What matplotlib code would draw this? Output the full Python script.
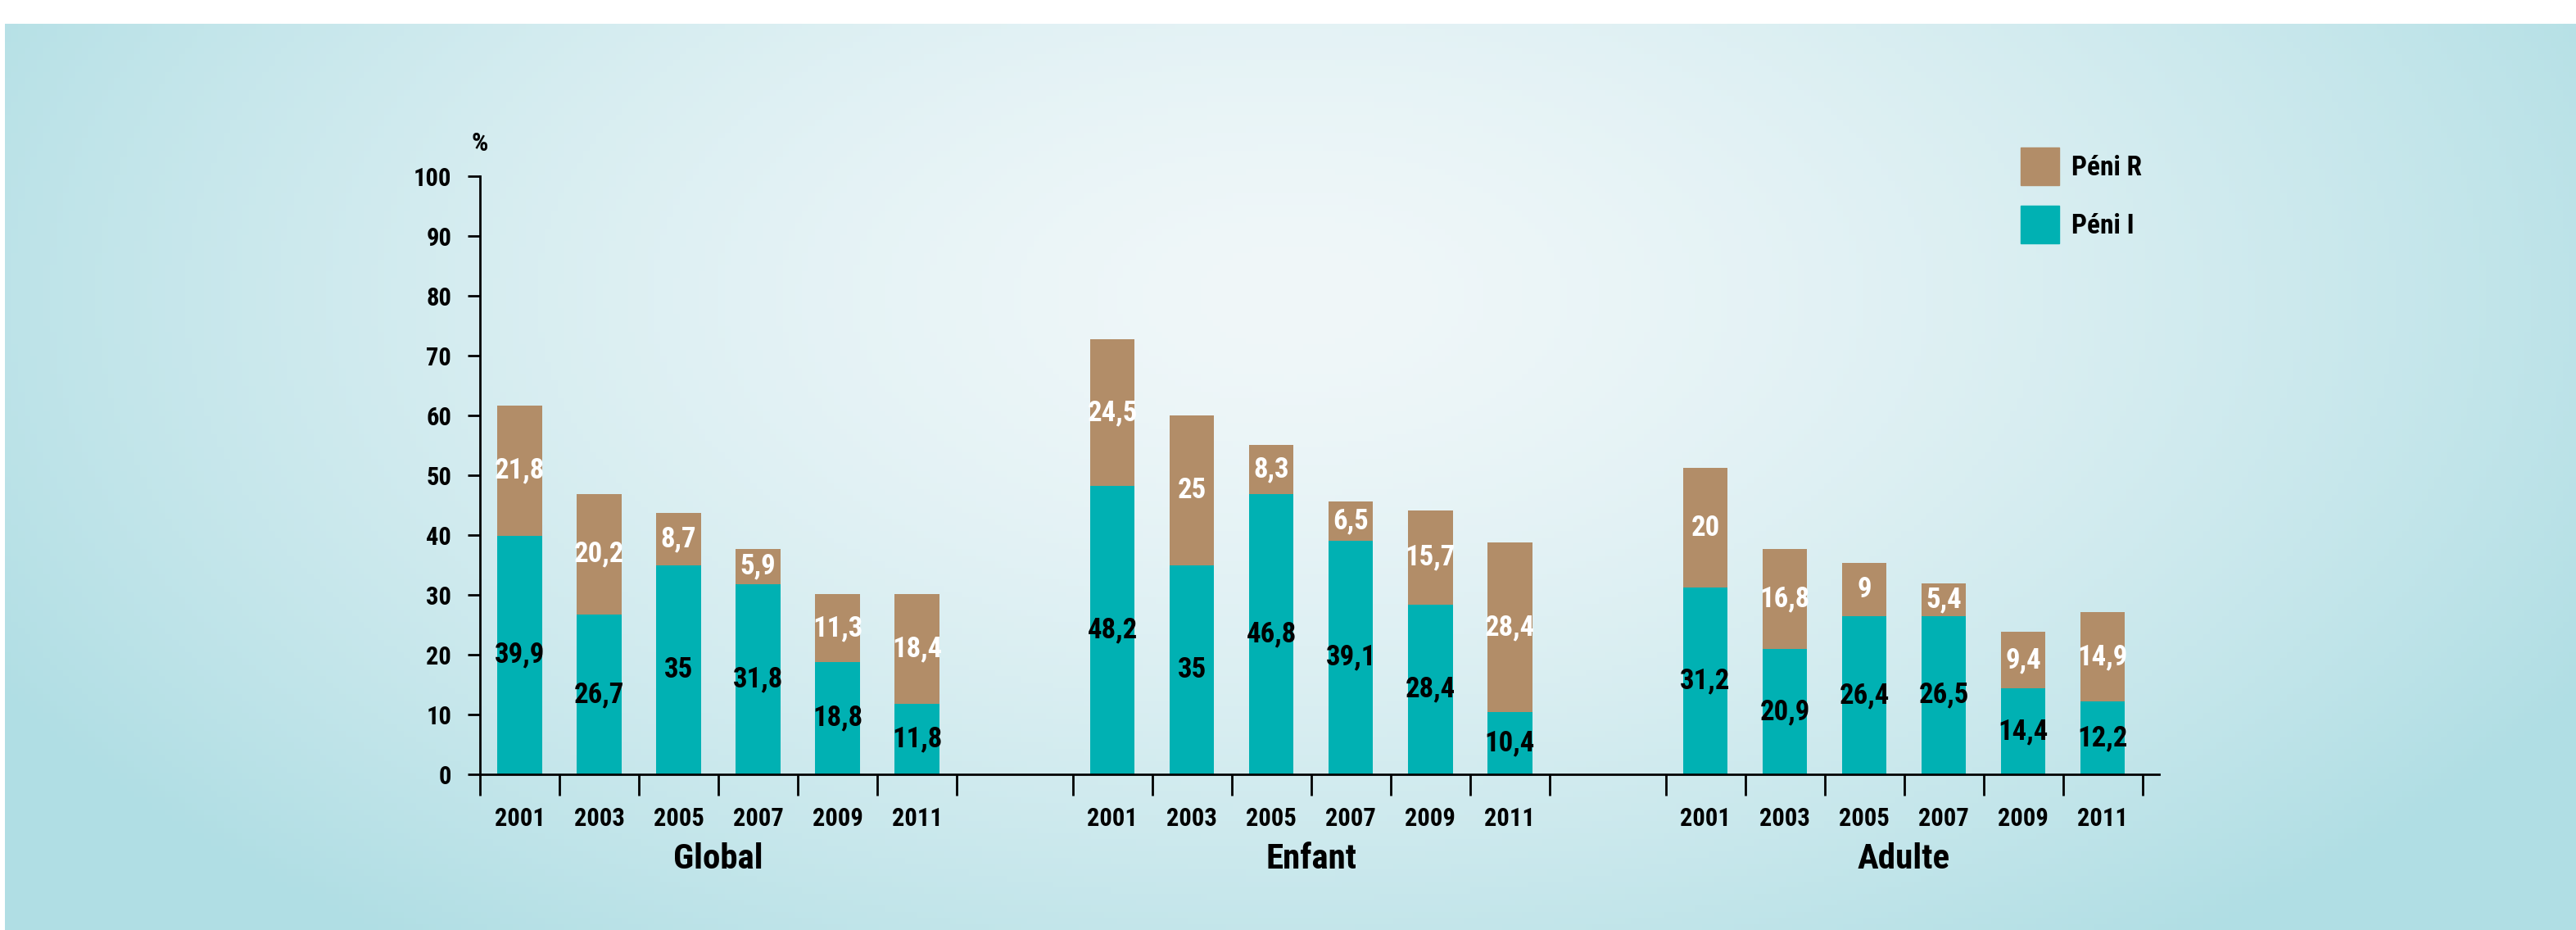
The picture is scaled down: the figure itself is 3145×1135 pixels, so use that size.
import numpy as np
import matplotlib
matplotlib.use('Agg')
import matplotlib.pyplot as plt
from matplotlib.patches import Patch
from matplotlib import font_manager

# pick a narrow bold face if one is installed
names = {f.name for f in font_manager.fontManager.ttflist}
cond_dejavu = any(f.name == 'DejaVu Sans' and f.stretch == 'condensed'
                  for f in font_manager.fontManager.ttflist)
family, stretch, narrow = 'Liberation Sans', 'normal', False
for cand in ['Liberation Sans Narrow', 'Arial Narrow', 'Roboto Condensed', 'Open Sans Condensed']:
    if cand in names:
        family, narrow = cand, True
        break
else:
    if cond_dejavu:
        family, stretch, narrow = 'DejaVu Sans', 'condensed', True

plt.rcParams['font.family'] = [family, 'DejaVu Sans']
plt.rcParams['font.stretch'] = stretch
plt.rcParams['font.weight'] = 'bold'

years = ['2001', '2003', '2005', '2007', '2009', '2011']
groups = ['Global', 'Enfant', 'Adulte']
peni_i = {
    'Global': [39.9, 26.7, 35, 31.8, 18.8, 11.8],
    'Enfant': [48.2, 35, 46.8, 39.1, 28.4, 10.4],
    'Adulte': [31.2, 20.9, 26.4, 26.5, 14.4, 12.2],
}
peni_r = {
    'Global': [21.8, 20.2, 8.7, 5.9, 11.3, 18.4],
    'Enfant': [24.5, 25, 8.3, 6.5, 15.7, 28.4],
    'Adulte': [20, 16.8, 9, 5.4, 9.4, 14.9],
}

teal = '#00b1b3'
brown = '#b28d68'

lab_fs = 25 if narrow else 20
tick_fs = 22 if narrow else 18
grp_fs = 31 if narrow else 27
leg_fs = 24 if narrow else 20

W, H = 3145, 1135
fig = plt.figure(figsize=(W / 100, H / 100), dpi=100)
fig.patch.set_facecolor('white')

# background gradient
bg = fig.add_axes([6 / W, 0, 1 - 6 / W, (H - 29) / H])
bg.axis('off')
xx, yy = np.meshgrid(np.linspace(0, 1, 400), np.linspace(0, 1, 150))
r = np.sqrt(((xx - 0.5) / 0.58) ** 2 + ((yy - 0.3) / 0.9) ** 2)
t = np.clip(r, 0, 1) ** 1.5
c0 = np.array([240, 247, 249]) / 255
c1 = np.array([176, 222, 228]) / 255
img = c0[None, None, :] * (1 - t[..., None]) + c1[None, None, :] * t[..., None]
bg.imshow(img, aspect='auto', extent=[0, 1, 0, 1], origin='upper')
bg.set_xlim(0, 1)
bg.set_ylim(0, 1)

ax = fig.add_axes([586 / W, 190 / H, 2050 / W, 730 / H])
ax.set_facecolor('none')

gap = 1.46
width = 0.56
centers, bounds = [], []
for g, name in enumerate(groups):
    start = g * (len(years) + gap)
    x = start + np.arange(len(years)) + 0.5
    bounds += list(start + np.arange(len(years) + 1))
    centers += list(x)
    bi = peni_i[name]
    br = peni_r[name]
    ax.bar(x, bi, width=width, color=teal, zorder=2)
    ax.bar(x, br, width=width, bottom=bi, color=brown, zorder=2)
    for xi, a, b in zip(x, bi, br):
        ax.text(xi, a / 2, f'{a:g}'.replace('.', ','), ha='center', va='center',
                fontsize=lab_fs, color='black', fontweight='bold', zorder=3)
        ax.text(xi, a + b / 2, f'{b:g}'.replace('.', ','), ha='center', va='center',
                fontsize=lab_fs, color='white', fontweight='bold', zorder=3)
    ax.text(start + len(years) / 2, -0.142, name, transform=ax.get_xaxis_transform(),
            ha='center', va='center', fontsize=grp_fs, fontweight='bold')

ax.set_xlim(0, 21.13)
ax.set_ylim(0, 100)
ax.set_yticks(range(0, 101, 10))
ax.set_xticks(bounds)
ax.set_xticklabels([])
ax.set_xticks(centers, minor=True)
ax.set_xticklabels(years * 3, minor=True)

for s in ['top', 'right']:
    ax.spines[s].set_visible(False)
for s in ['left', 'bottom']:
    ax.spines[s].set_linewidth(2)
    ax.spines[s].set_color('black')
ax.tick_params(axis='y', length=11, width=2, pad=14, labelsize=tick_fs)
ax.tick_params(axis='x', which='major', length=19, width=2, direction='out')
ax.tick_params(axis='x', which='minor', length=0, pad=28, labelsize=tick_fs)
for lab in ax.get_xticklabels(minor=True) + ax.get_yticklabels():
    lab.set_fontweight('bold')

ax.text(0, 105.5, '%', ha='center', va='center', fontsize=tick_fs + 1, fontweight='bold')

handles = [Patch(color=brown, label='Péni R'), Patch(color=teal, label='Péni I')]
fig.legend(handles=handles, loc='upper left', bbox_to_anchor=(2437 / W, 1 - 150 / H),
           frameon=False, handlelength=1.4, handleheight=1.75,
           labelspacing=0.75, handletextpad=0.45, prop={'weight': 'bold', 'size': leg_fs})

fig.savefig('out.png', dpi=100)
